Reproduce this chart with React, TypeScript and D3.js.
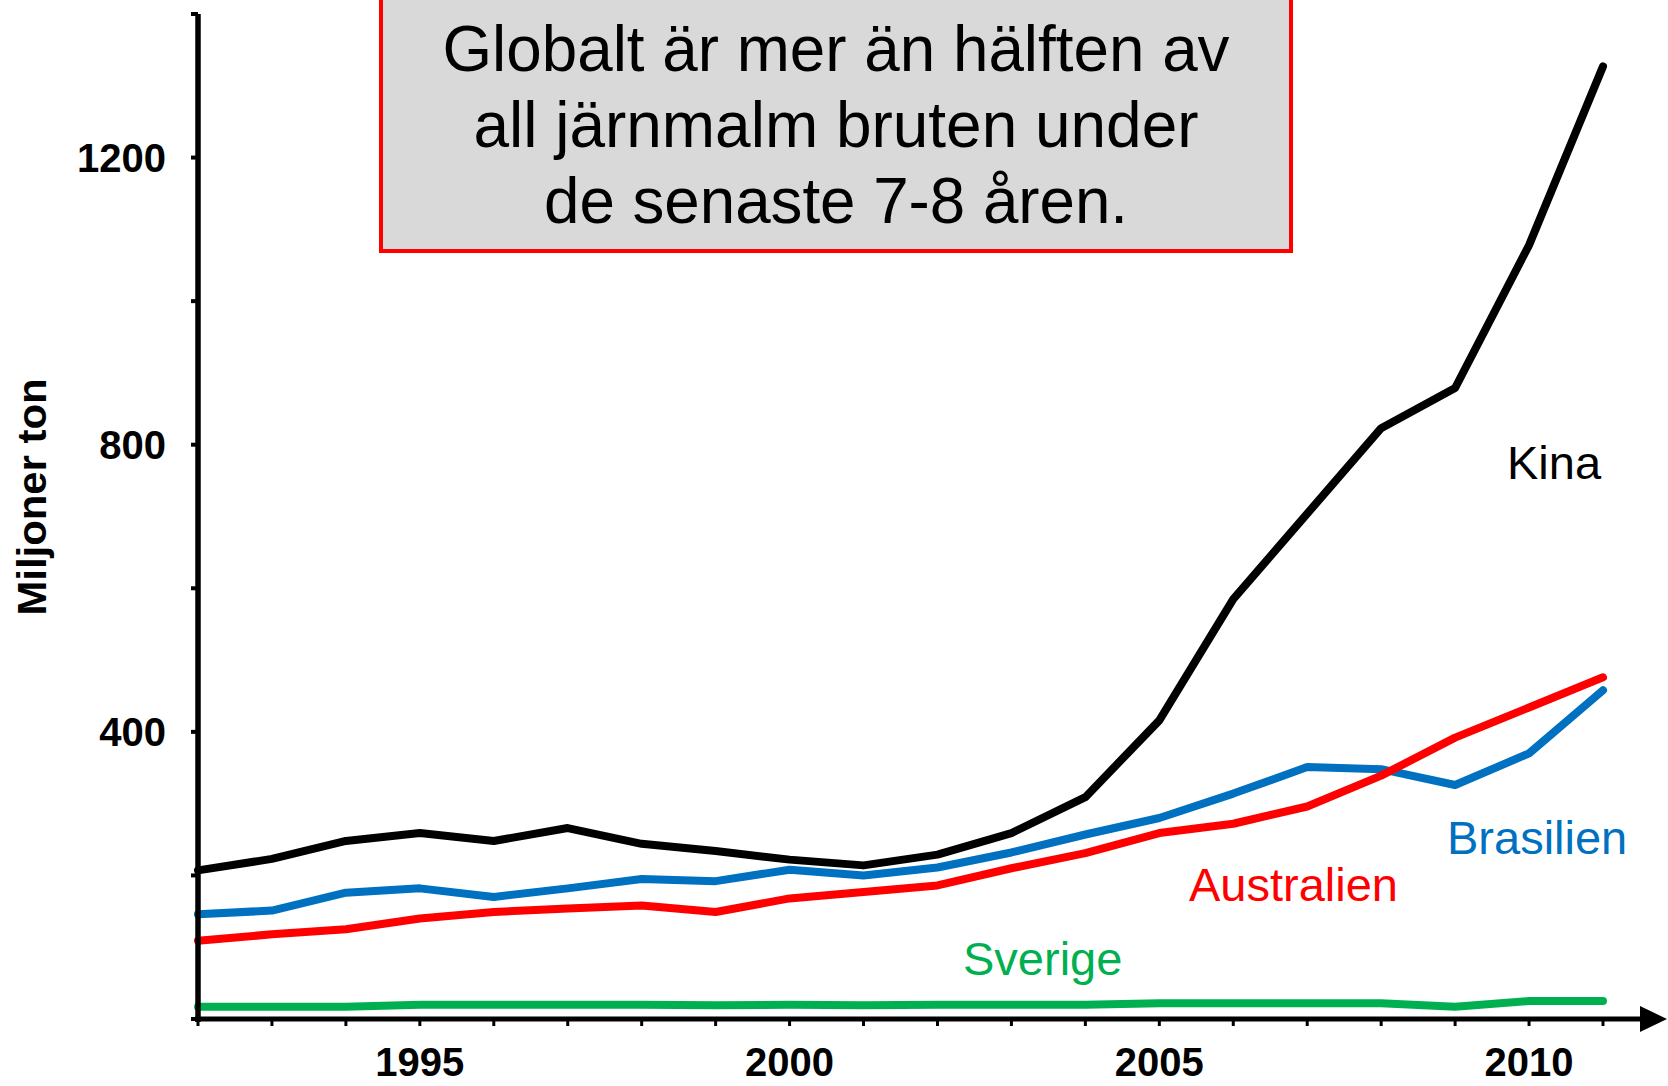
import React from 'react';
import { scaleLinear, line, range } from 'd3';

const width = 1668;
const height = 1086;

// years on the x axis
const years = range(1992, 2012);
const yearLabels = [1995, 2000, 2005, 2010];
const yTickLabels = [400, 800, 1200];
const yTicks = range(0, 1401, 200);

// miljoner ton järnmalm
const kina = [207, 223, 248, 259, 248, 266, 244, 234, 222, 214, 229, 259, 309, 416, 585, 704, 823, 879, 1078, 1327];
const brasilien = [146, 151, 176, 182, 170, 182, 195, 192, 208, 200, 211, 232, 257, 280, 314, 351, 348, 326, 370, 458];
const australien = [109, 118, 125, 140, 149, 154, 158, 149, 168, 177, 186, 210, 231, 259, 272, 296, 339, 392, 434, 476];
const sverige = [17, 17, 17, 20, 20, 20, 20, 19, 20, 19, 20, 20, 20, 22, 22, 22, 22, 17, 25, 25];

const seriesNames = ['Kina', 'Brasilien', 'Australien', 'Sverige'];
const seriesValues = [kina, brasilien, australien, sverige];
const seriesColors = ['#000000', '#0070c0', '#ff0000', '#00b050'];

const titleLines = ['Globalt är mer än hälften av', 'all järnmalm bruten under', 'de senaste 7-8 åren.'];

const x = scaleLinear().domain([1992, 2011]).range([198, 1603]);
const y = scaleLinear().domain([0, 1400]).range([1019, 14]);

const font = '"Liberation Sans", Arial, sans-serif';

// label spots [x, baseline]
const labelPos = [
  [1507, 479],
  [1447, 854],
  [1189, 901],
  [963, 975],
];

const App = () => {
  const lineGen = line<number>()
    .x((d, i) => x(years[i]))
    .y(d => y(d));

  const axisX = x(1992);
  const axisY = y(0);

  return (
    <svg width={width} height={height} style={{ position: 'absolute', left: 0, top: 0, background: '#fff' }} fontFamily={font}>
      {/* text box */}
      <rect x={381} y={-4} width={910} height={255} fill="#d9d9d9" stroke="#ff0000" strokeWidth={4} />
      {titleLines.map((t, i) => (
        <text key={t} x={836} y={71 + i * 76} textAnchor="middle" fontSize={64} fill="#000"
          textLength={[787, 725, 584][i]} lengthAdjust="spacingAndGlyphs">
          {t}
        </text>
      ))}

      {/* series */}
      {seriesValues.map((vals, i) => (
        <path key={seriesNames[i]} d={lineGen(vals) || ''} fill="none" stroke={seriesColors[i]}
          strokeWidth={8} strokeLinejoin="round" strokeLinecap="round" />
      ))}

      {/* y axis */}
      <line x1={axisX} x2={axisX} y1={y(1400)} y2={axisY + 3} stroke="#000" strokeWidth={5.5} />
      {yTicks.map(t => (
        <line key={t} x1={axisX - 7} x2={axisX} y1={y(t)} y2={y(t)} stroke="#000" strokeWidth={4} />
      ))}
      {yTickLabels.map(t => (
        <text key={t} x={166} y={y(t) + 14} textAnchor="end" fontSize={40} fontWeight="bold">{t}</text>
      ))}
      <text transform={`translate(46,497) rotate(-90)`} textAnchor="middle" fontSize={40} fontWeight="bold"
        textLength={237} lengthAdjust="spacingAndGlyphs">Miljoner ton</text>

      {/* x axis */}
      <line x1={axisX - 3} x2={1645} y1={axisY} y2={axisY} stroke="#000" strokeWidth={5} />
      <path d={`M1640,${axisY - 13} L1667,${axisY} L1640,${axisY + 13} Z`} fill="#000" />
      {years.map(yr => (
        <line key={yr} x1={x(yr)} x2={x(yr)} y1={axisY} y2={axisY + 7} stroke="#000" strokeWidth={3} />
      ))}
      {yearLabels.map(yr => (
        <text key={yr} x={x(yr)} y={1076} textAnchor="middle" fontSize={40} fontWeight="bold">{yr}</text>
      ))}

      {/* series labels */}
      {seriesNames.map((n, i) => (
        <text key={n} x={labelPos[i][0]} y={labelPos[i][1]} fontSize={47} fill={seriesColors[i]}>{n}</text>
      ))}
    </svg>
  );
};

export default App;
